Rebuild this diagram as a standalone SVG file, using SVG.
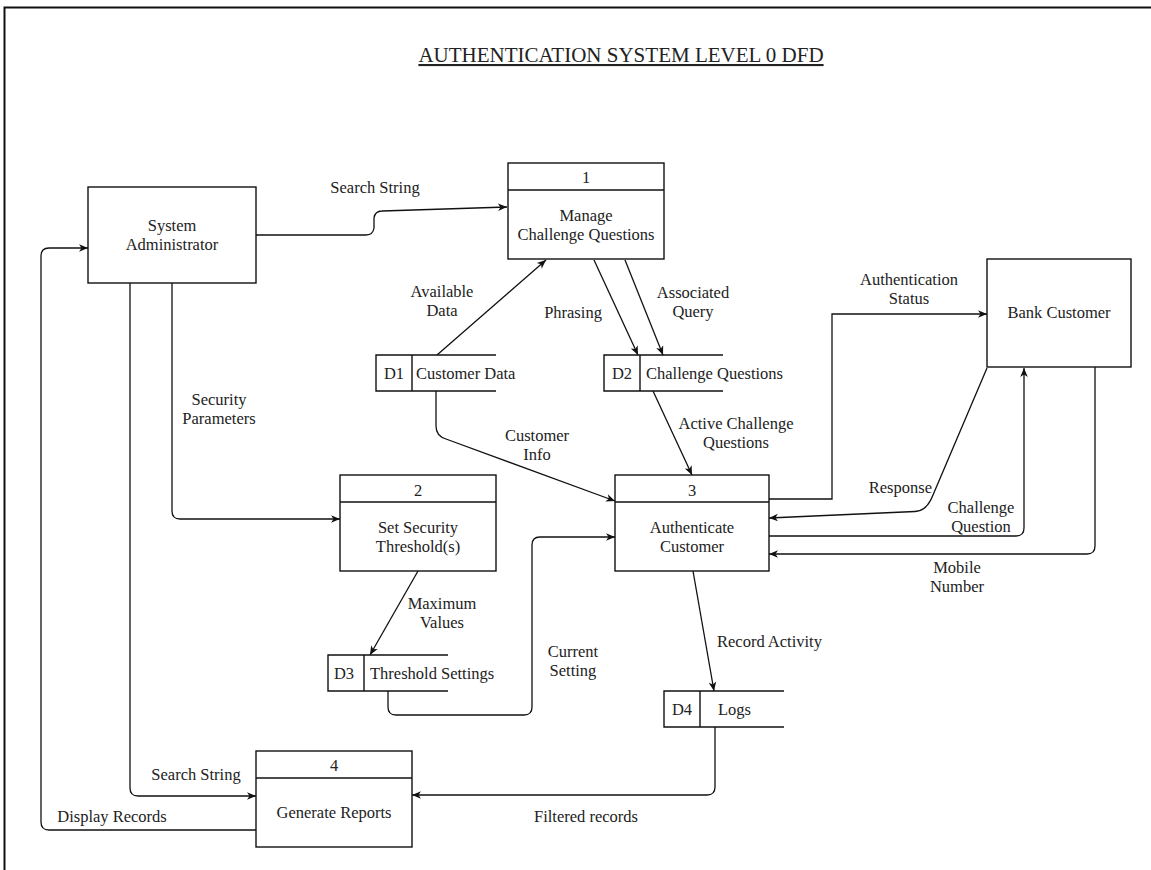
<svg xmlns="http://www.w3.org/2000/svg" width="1151" height="870" viewBox="0 0 1151 870">
  <defs>
    <marker id="arrow" viewBox="0 0 10 10" refX="10" refY="5" markerWidth="9" markerHeight="9" markerUnits="userSpaceOnUse" orient="auto">
      <path d="M0,0.8 L10,5 L0,9.2 L2.8,5 z" fill="#111"/>
    </marker>
    <style>
      text { font-family: "Liberation Serif", "Times New Roman", serif; font-size: 16.5px; fill: #222; }
      .c { text-anchor: middle; }
      .box { fill: #fff; stroke: #111; stroke-width: 1.4; }
      .ln { fill: none; stroke: #111; stroke-width: 1.4; }
      .flow { fill: none; stroke: #111; stroke-width: 1.3; marker-end: url(#arrow); }
      .title { font-size: 21px; text-anchor: middle; text-decoration: underline; }
    </style>
  </defs>

  <rect width="1151" height="870" fill="#fff"/>
  <!-- page frame -->
  <path d="M4.5,870 V7.5 H1151" fill="none" stroke="#111" stroke-width="2"/>

  <text class="title" x="621" y="62">AUTHENTICATION SYSTEM LEVEL 0 DFD</text>

  <!-- external entities -->
  <g id="system-administrator">
    <rect class="box" x="88" y="187" width="168" height="96"/>
    <text class="c" x="172" y="231">System</text>
    <text class="c" x="172" y="250">Administrator</text>
  </g>
  <g id="bank-customer">
    <rect class="box" x="987" y="259" width="144" height="108"/>
    <text class="c" x="1059" y="318">Bank Customer</text>
  </g>

  <!-- processes -->
  <g id="process-1">
    <rect class="box" x="508" y="163" width="156" height="96"/>
    <line class="ln" x1="508" y1="190" x2="664" y2="190"/>
    <text class="c" x="586" y="183">1</text>
    <text class="c" x="586" y="221">Manage</text>
    <text class="c" x="586" y="240">Challenge Questions</text>
  </g>
  <g id="process-2">
    <rect class="box" x="340" y="475" width="156" height="96"/>
    <line class="ln" x1="340" y1="502" x2="496" y2="502"/>
    <text class="c" x="418" y="496">2</text>
    <text class="c" x="418" y="532.5">Set Security</text>
    <text class="c" x="418" y="551.5">Threshold(s)</text>
  </g>
  <g id="process-3">
    <rect class="box" x="615" y="475" width="154" height="96"/>
    <line class="ln" x1="615" y1="502" x2="769" y2="502"/>
    <text class="c" x="692" y="496">3</text>
    <text class="c" x="692" y="532.5">Authenticate</text>
    <text class="c" x="692" y="551.5">Customer</text>
  </g>
  <g id="process-4">
    <rect class="box" x="256" y="751" width="156" height="96"/>
    <line class="ln" x1="256" y1="778" x2="412" y2="778"/>
    <text class="c" x="334" y="771">4</text>
    <text class="c" x="334" y="818">Generate Reports</text>
  </g>

  <!-- data stores -->
  <g id="store-d1">
    <path class="ln" d="M496,355 H376 V391 H496 M412,355 V391"/>
    <text class="c" x="394" y="379">D1</text>
    <text x="416" y="379">Customer Data</text>
  </g>
  <g id="store-d2">
    <path class="ln" d="M723,355 H604 V391 H723 M640,355 V391"/>
    <text class="c" x="622" y="379">D2</text>
    <text x="646" y="379">Challenge Questions</text>
  </g>
  <g id="store-d3">
    <path class="ln" d="M448,655 H328 V691 H448 M364,655 V691"/>
    <text class="c" x="344" y="678.5">D3</text>
    <text x="370" y="678.5">Threshold Settings</text>
  </g>
  <g id="store-d4">
    <path class="ln" d="M784,691 H664 V727 H784 M700,691 V727"/>
    <text class="c" x="682" y="715">D4</text>
    <text x="718" y="715">Logs</text>
  </g>

  <!-- data flows -->
  <g id="connectors">
    <path class="flow" d="M256,235 H366 Q373,235 374,228 V218 Q375,211 382,211 L507,207"/>
    <path class="flow" d="M437,355 L546,260"/>
    <path class="flow" d="M594,260 L638,355"/>
    <path class="flow" d="M625,260 L663,355"/>
    <path class="flow" d="M653,391 L692,475"/>
    <path class="flow" d="M436,391 V426 Q436,436 446,439 L615,501"/>
    <path class="flow" d="M172,283 V511 Q172,519 180,519 H340"/>
    <path class="flow" d="M130,283 V788 Q130,796 138,796 H256"/>
    <path class="flow" d="M256,830 H49 Q41,830 41,822 V256 Q41,248 49,248 H88"/>
    <path class="flow" d="M418,571 L370,655"/>
    <path class="flow" d="M388,691 V707 Q388,715 396,715 H524 Q532,715 532,707 V545 Q532,537 540,537 H615"/>
    <path class="flow" d="M693,571 L714,691"/>
    <path class="flow" d="M715,727 V787 Q715,795 707,795 H412"/>
    <path class="flow" d="M769,499 H832 V314 H987"/>
    <path class="flow" d="M987,368 L933,495 Q927,511 915,511.5 L769,518"/>
    <path class="flow" d="M769,536 H1016 Q1024,536 1024,528 V368"/>
    <path class="flow" d="M1095,367 V546 Q1095,554 1087,554 H769"/>
  </g>

  <!-- flow labels -->
  <g id="flow-labels">
    <text class="c" x="375" y="193">Search String</text>
    <text class="c" x="442" y="297">Available</text>
    <text class="c" x="442" y="316">Data</text>
    <text class="c" x="573" y="318">Phrasing</text>
    <text class="c" x="693" y="298">Associated</text>
    <text class="c" x="693" y="317">Query</text>
    <text class="c" x="736" y="429">Active Challenge</text>
    <text class="c" x="736" y="448">Questions</text>
    <text class="c" x="537" y="441">Customer</text>
    <text class="c" x="537" y="460">Info</text>
    <text class="c" x="219" y="405">Security</text>
    <text class="c" x="219" y="424">Parameters</text>
    <text class="c" x="196" y="780">Search String</text>
    <text class="c" x="112" y="822">Display Records</text>
    <text class="c" x="442" y="609">Maximum</text>
    <text class="c" x="442" y="628">Values</text>
    <text class="c" x="573" y="656.5">Current</text>
    <text class="c" x="573" y="675.5">Setting</text>
    <text x="717" y="646.5">Record Activity</text>
    <text class="c" x="586" y="822">Filtered records</text>
    <text class="c" x="909" y="285">Authentication</text>
    <text class="c" x="909" y="304">Status</text>
    <text x="932" y="493" text-anchor="end">Response</text>
    <text class="c" x="981" y="512.5">Challenge</text>
    <text class="c" x="981" y="531.5">Question</text>
    <text class="c" x="957" y="573">Mobile</text>
    <text class="c" x="957" y="592">Number</text>
  </g>
</svg>
